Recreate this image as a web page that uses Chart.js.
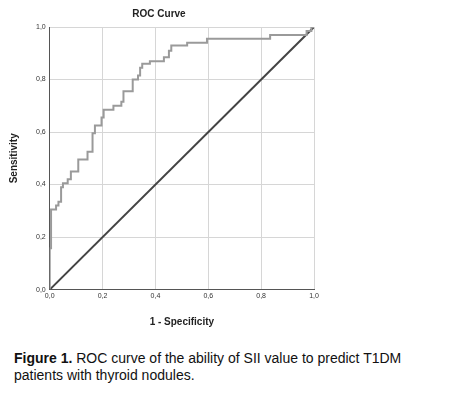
<!DOCTYPE html>
<html><head><meta charset="utf-8">
<script src="https://cdn.jsdelivr.net/npm/chart.js@4/dist/chart.umd.min.js"></script>
<style>
body{margin:0;background:#fff;font-family:Arial,"Liberation Sans",sans-serif}
#wrap{position:relative;width:456px;height:335px}
.cap{position:absolute;left:14px;top:350px;width:418px;font-size:14px;line-height:17px;color:#111}
</style></head><body>
<div id="wrap"><canvas id="c" width="456" height="335"></canvas></div>
<div class="cap"><b>Figure 1.</b> ROC curve of the ability of SII value to predict T1DM patients with thyroid nodules.</div>
<script>
// step corners of the ROC curve
const fpr = [0,0,0.005,0.005,0.024,0.024,0.033,0.033,0.043,0.043,0.05,0.05,0.068,0.068,0.08,0.08,0.108,0.108,0.143,0.143,0.162,0.162,0.171,0.171,0.196,0.196,0.204,0.204,0.241,0.241,0.271,0.271,0.279,0.279,0.314,0.314,0.334,0.334,0.342,0.342,0.35,0.35,0.379,0.379,0.432,0.432,0.451,0.451,0.46,0.46,0.52,0.52,0.595,0.595,0.834,0.834,0.972,0.972,0.99,0.99,1]
const tpr = [0,0.157,0.157,0.305,0.305,0.32,0.32,0.335,0.335,0.39,0.39,0.405,0.405,0.42,0.42,0.45,0.45,0.495,0.495,0.525,0.525,0.595,0.595,0.625,0.625,0.655,0.655,0.685,0.685,0.70,0.70,0.715,0.715,0.755,0.755,0.80,0.80,0.815,0.815,0.845,0.845,0.86,0.86,0.87,0.87,0.885,0.885,0.91,0.91,0.93,0.93,0.94,0.94,0.955,0.955,0.97,0.97,0.985,0.985,1,1]
const diagX = [0, 1]
const tickVals = [0, 0.2, 0.4, 0.6, 0.8, 1.0]
const fmt = v => v.toFixed(1).replace('.', ',')

new Chart(document.getElementById('c'), {
  type: 'scatter',
  data: {
    datasets: [
      { data: fpr.map((x, i) => ({ x, y: tpr[i] })), showLine: true, borderColor: '#9a9a9a', borderWidth: 2, pointRadius: 0, tension: 0 },
      { data: diagX.map(x => ({ x, y: x })), showLine: true, borderColor: '#444', borderWidth: 2, pointRadius: 0 }
    ]
  },
  options: {
    responsive: false, animation: false,
    layout: { padding: { left: 4, right: 142, top: 2, bottom: 3 } },
    plugins: {
      legend: { display: false }, tooltip: { enabled: false },
      title: { display: true, text: 'ROC Curve', color: '#222', font: { size: 10, weight: 'bold', family: 'Arial' }, padding: { top: 6, bottom: 7 } }
    },
    scales: {
      x: {
        type: 'linear', min: 0, max: 1,
        afterBuildTicks: a => { a.ticks = tickVals.map(v => ({ value: v })) },
        ticks: { callback: v => fmt(v), color: '#333', font: { size: 7 }, padding: 2, maxRotation: 0 },
        grid: { color: '#d6d6d6', drawTicks: false }, border: { color: '#555' },
        title: { display: true, text: '1 - Specificity', color: '#222', font: { size: 10, weight: 'bold', family: 'Arial' }, padding: { top: 14 } }
      },
      y: {
        type: 'linear', min: 0, max: 1,
        afterBuildTicks: a => { a.ticks = tickVals.map(v => ({ value: v })) },
        ticks: { callback: v => fmt(v), color: '#333', font: { size: 7 }, padding: 4 },
        grid: { color: '#d6d6d6', drawTicks: false }, border: { color: '#555' },
        title: { display: true, text: 'Sensitivity', color: '#222', font: { size: 10, weight: 'bold', family: 'Arial' }, padding: { bottom: 12 } }
      }
    }
  }
})
</script>
</body></html>
